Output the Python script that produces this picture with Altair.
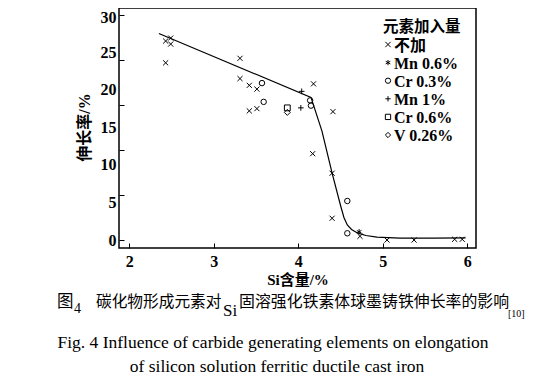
import altair as alt
import pandas as pd

# ---------------- data ----------------
series_names = ["不加", "Mn 0.6%", "Cr 0.3%", "Mn 1%", "Cr 0.6%", "V 0.26%"]

none_x = [2.43, 2.49, 2.49, 2.43, 3.31, 3.31, 3.42, 3.51, 3.42, 3.51, 4.18, 4.41, 4.17, 4.40, 4.40, 4.73, 5.05, 5.37, 5.85, 5.94]
none_y = [26.5, 26.9, 26.1, 23.6, 24.2, 21.5, 20.6, 20.1, 17.2, 17.5, 20.8, 17.1, 11.5, 8.9, 2.9, 0.5, 0.0, 0.0, 0.1, 0.1]
mn06_x = [4.72]
mn06_y = [1.1]
cr03_x = [3.57, 3.59, 4.14, 4.15, 4.58, 4.58]
cr03_y = [20.9, 18.4, 18.6, 17.9, 5.2, 0.9]
mn1_x = [4.04, 4.03]
mn1_y = [19.8, 17.6]
cr06_x = [3.87]
cr06_y = [17.6]
v026_x = [3.87]
v026_y = [17.0]

line_x = [2.35, 4.15, 4.28, 4.40, 4.50, 4.54, 4.58, 4.63, 4.70, 4.80, 4.93, 5.20, 5.60, 5.98]
line_y = [27.5, 19.0, 14.5, 8.9, 4.6, 3.0, 2.0, 1.4, 0.95, 0.6, 0.38, 0.25, 0.25, 0.3]

x_ticks = [2, 3, 4, 5, 6]
y_labels = [0, 5, 10, 15, 20, 25, 30]
y_tick_marks = [0, 6, 12, 18, 24, 30]

x_title = "Si含量/%"
y_title = "伸长率/%"
legend_title = "元素加入量"

cap_zh_a = "图"
cap_zh_a_sub = "4"
cap_zh_b = "碳化物形成元素对"
cap_zh_b_sub = "Si"
cap_zh_c = "固溶强化铁素体球墨铸铁伸长率的影响"
cap_zh_c_sub = "[10]"
cap_en_1 = "Fig. 4 Influence of carbide generating elements on elongation"
cap_en_2 = "of silicon solution ferritic ductile cast iron"

# ---------------- tables ----------------
groups = [(none_x, none_y), (mn06_x, mn06_y), (cr03_x, cr03_y),
          (mn1_x, mn1_y), (cr06_x, cr06_y), (v026_x, v026_y)]
rows = []
for name, (xs, ys) in zip(series_names, groups):
    for xv, yv in zip(xs, ys):
        rows.append({"si": xv, "el": yv, "series": name})
pts = pd.DataFrame(rows)
curve = pd.DataFrame({"si": line_x, "el": line_y})
legend_df = pd.DataFrame({"series": series_names})

serif = "Liberation Serif, Noto Sans CJK SC"
cjk = "Noto Sans CJK SC"

x_scale = alt.Scale(domain=[1.878, 6.103], nice=False, zero=False)
y_scale = alt.Scale(domain=[-1.06, 30.9], nice=False, zero=False)

x_axis = alt.Axis(values=x_ticks, offset=-5, tickSize=5, tickColor="black",
                  labelPadding=5, domain=False, grid=False, title=x_title,
                  titlePadding=3, labelFont=serif, labelFontSize=16,
                  labelFontWeight="bold", labelColor="black", titleFont=serif,
                  titleFontSize=15, titleFontWeight="bold", titleColor="black")

line = alt.Chart(curve).mark_line(color="black", strokeWidth=1.2).encode(
    x=alt.X("si:Q", scale=x_scale, axis=x_axis),
    y=alt.Y("el:Q", scale=y_scale,
            axis=alt.Axis(values=y_labels, ticks=False, tickSize=0, domain=False,
                          grid=False, labelPadding=3, title=y_title,
                          labelOffset={"condition": {"test": "datum.value >= 30",
                                                     "value": 2.5},
                                       "value": 0},
                          titlePadding=8, titleY=119, labelFont=serif,
                          labelFontSize=16, labelFontWeight="bold",
                          labelColor="black", titleFont=serif, titleFontSize=16,
                          titleFontWeight="bold", titleColor="black",
                          orient="left")),
)

shape_paths = ["M-1,-1L1,1M1,-1L-1,1",
               "M0,-1L0,1M-0.87,-0.5L0.87,0.5M-0.87,0.5L0.87,-0.5",
               "circle",
               "M-1,0L1,0M0,-1L0,1",
               "square",
               "diamond"]
sizes = [26, 36, 52, 40, 26, 26]
shape_scale = alt.Scale(domain=series_names, range=shape_paths)

points = alt.Chart(pts).mark_point(filled=False, color="black", strokeWidth=1,
                                   opacity=1).encode(
    x=alt.X("si:Q", scale=x_scale, axis=x_axis),
    y=alt.Y("el:Q", scale=y_scale,
            axis=alt.Axis(values=y_tick_marks, labels=False, domain=False,
                          grid=False, tickSize=5, offset=-5, tickColor="black",
                          title=None, orient="left")),
    shape=alt.Shape("series:N", scale=shape_scale, legend=None),
    size=alt.Size("series:N", scale=alt.Scale(domain=series_names, range=sizes),
                  legend=None),
)

# hand-built legend (rows placed by a point scale over the series names)
row_scale = alt.Scale(type="point", domain=series_names, range=[36.5, 127], padding=0)

leg_symbols = alt.Chart(legend_df).mark_point(
    filled=False, color="black", strokeWidth=1, opacity=1, size=28).encode(
    x=alt.value(269),
    y=alt.Y("series:N", scale=row_scale, axis=None),
    shape=alt.Shape("series:N", scale=shape_scale, legend=None),
)
leg_labels = alt.Chart(legend_df).mark_text(
    font=serif, fontSize=16, fontWeight="bold", align="left",
    baseline="middle", color="black", dy=1).encode(
    x=alt.value(275),
    y=alt.Y("series:N", scale=row_scale, axis=None),
    text="series:N",
)


def txt(s, x, y, font, size, weight="normal", align="left", baseline="alphabetic"):
    return alt.Chart(pd.DataFrame({"label": [s]})).mark_text(
        font=font, fontSize=size, fontWeight=weight, align=align,
        baseline=baseline, color="black"
    ).encode(text="label:N", x=alt.value(x), y=alt.value(y))


leg_title = txt(legend_title, 264, 18.5, cjk, 15.5, weight="bold", baseline="middle")

captions = [
    txt(cap_zh_a, -62, 299, cjk, 16.5),
    txt(cap_zh_a_sub, -45, 305, serif, 14),
    txt(cap_zh_b, -23, 299, cjk, 15.7),
    txt(cap_zh_b_sub, 104, 308, serif, 17),
    txt(cap_zh_c, 120, 299, cjk, 15.9),
    txt(cap_zh_c_sub, 389, 309, serif, 10),
    txt(cap_en_1, 154, 340, serif, 17.5, align="center"),
    txt(cap_en_2, 158, 364, serif, 17.5, align="center"),
]

chart = alt.layer(line, points, leg_symbols, leg_labels, leg_title, *captions
                  ).resolve_scale(y="independent").properties(
    width=357, height=240,
    autosize=alt.AutoSizeParams(type="none"),
    padding={"left": 111, "top": 0, "right": 68, "bottom": 128},
    background="white",
).configure_view(stroke="black", strokeWidth=1.5)

chart.save("out.html", embed_options={"renderer": "svg", "actions": False})
